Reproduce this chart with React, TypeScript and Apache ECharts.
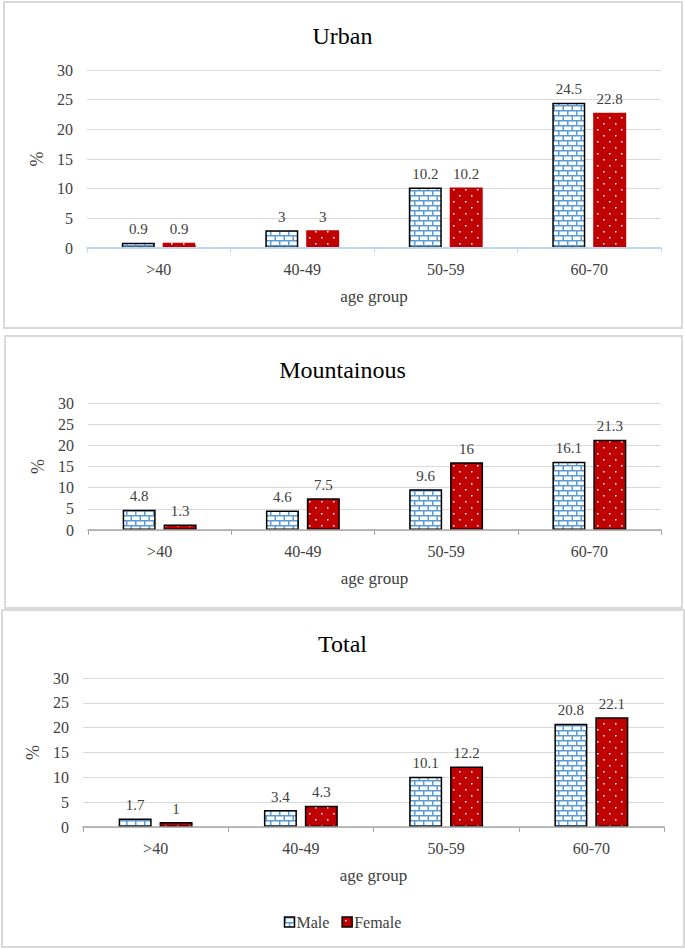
import React, { useEffect, useRef } from "react";
import * as echarts from "echarts";

const categories = [">40", "40-49", "50-59", "60-70"];
const urbanMale = [0.9, 3, 10.2, 24.5];
const urbanFemale = [0.9, 3, 10.2, 22.8];
const mountMale = [4.8, 4.6, 9.6, 16.1];
const mountFemale = [1.3, 7.5, 16, 21.3];
const totalMale = [1.7, 3.4, 10.1, 20.8];
const totalFemale = [1, 4.3, 12.2, 22.1];
const panelTitles = ["Urban", "Mountainous", "Total"];
const seriesNames = ["Male", "Female"];

const FONT = "Times New Roman, Liberation Serif, DejaVu Serif, serif";
const TEXT = "#404040";

function brickCanvas() {
  const c = document.createElement("canvas");
  c.width = 18;
  c.height = 10;
  const g = c.getContext("2d")!;
  g.fillStyle = "#ffffff";
  g.fillRect(0, 0, 18, 10);
  g.fillStyle = "#5b9bd5";
  g.fillRect(0, 0, 18, 1.5);
  g.fillRect(0, 5, 18, 1.5);
  g.fillRect(0, 0, 1.5, 5);
  g.fillRect(9, 0, 1.5, 5);
  g.fillRect(4.5, 5, 1.5, 5);
  g.fillRect(13.5, 5, 1.5, 5);
  return c;
}

function dotCanvas() {
  const c = document.createElement("canvas");
  c.width = 12;
  c.height = 12;
  const g = c.getContext("2d")!;
  g.fillStyle = "#c00000";
  g.fillRect(0, 0, 12, 12);
  g.fillStyle = "#ffffff";
  g.fillRect(3, 3, 1.5, 1.5);
  g.fillRect(9, 9, 1.5, 1.5);
  return c;
}

export default function App() {
  const ref = useRef<HTMLDivElement>(null);
  useEffect(() => {
    document.body.style.margin = "0";
    const chart = echarts.init(ref.current!, undefined, { renderer: "svg" });
    const brick = { image: brickCanvas(), repeat: "repeat" } as any;
    const dots = { image: dotCanvas(), repeat: "repeat" } as any;

    const grids = [
      { left: 87, top: 70, width: 574, height: 178 },
      { left: 88, top: 403, width: 573, height: 127 },
      { left: 83, top: 678, width: 581, height: 149 },
    ];
    const axisColors = ["#bdd7ee", "#a6a6a6", "#a6a6a6"];
    const titleTops = [19, 353, 627];
    const panels = [
      { x: 4, y: 2, w: 678, h: 326 },
      { x: 5, y: 336, w: 677, h: 272 },
      { x: 2, y: 610, w: 682, h: 337 },
    ];
    const data = [
      [urbanMale, urbanFemale],
      [mountMale, mountFemale],
      [totalMale, totalFemale],
    ];

    const series: any[] = [];
    data.forEach((pair, i) => {
      pair.forEach((vals, j) => {
        const femaleBorder = j === 1 && i === 0 ? 0 : 1.5;
        series.push({
          type: "bar",
          name: seriesNames[j],
          xAxisIndex: i,
          yAxisIndex: i,
          data: vals,
          barWidth: 33,
          barGap: "24%",
          itemStyle: {
            color: j === 0 ? brick : dots,
            borderColor: "#000000",
            borderWidth: j === 0 ? 1.5 : femaleBorder,
          },
          label: {
            show: true,
            position: "top",
            distance: 6,
            fontFamily: FONT,
            fontSize: 15,
            color: TEXT,
          },
        });
      });
    });

    chart.setOption({
      animation: false,
      backgroundColor: "#ffffff",
      textStyle: { fontFamily: FONT },
      title: panelTitles.map((t, i) => ({
        text: t,
        left: "center",
        top: titleTops[i],
        textStyle: { fontFamily: FONT, fontSize: 24, fontWeight: "normal", color: "#000000" },
      })),
      graphic: panels.map((p) => ({
        type: "rect",
        shape: { x: p.x, y: p.y, width: p.w, height: p.h },
        style: { fill: "none", stroke: "#d9d9d9", lineWidth: 2 },
        z: -1,
      })),
      legend: {
        bottom: 14,
        left: "center",
        itemWidth: 10,
        itemHeight: 10,
        itemGap: 12,
        icon: "rect",
        textStyle: { fontFamily: FONT, fontSize: 16, color: TEXT, padding: [0, 0, 0, -3] },
        data: [
          { name: "Male", itemStyle: { color: brick, borderColor: "#000", borderWidth: 1.5 } },
          { name: "Female", itemStyle: { color: dots, borderColor: "#000", borderWidth: 1.5 } },
        ],
      },
      grid: grids.map((g) => ({ ...g, containLabel: false })),
      xAxis: grids.map((_, i) => ({
        type: "category",
        gridIndex: i,
        data: categories,
        name: "age group",
        nameLocation: "middle",
        nameGap: 40,
        nameTextStyle: { fontFamily: FONT, fontSize: 17, color: TEXT },
        axisLine: { lineStyle: { color: axisColors[i], width: i === 0 ? 2 : 1.5 } },
        axisTick: { show: true, length: 5, lineStyle: { color: axisColors[i] } },
        axisLabel: { fontFamily: FONT, fontSize: 16, color: TEXT, margin: 13 },
        z: 5,
      })),
      yAxis: grids.map((_, i) => ({
        type: "value",
        gridIndex: i,
        min: 0,
        max: 30,
        interval: 5,
        name: "%",
        nameLocation: "middle",
        nameGap: 40,
        nameTextStyle: { fontFamily: FONT, fontSize: 18, color: TEXT },
        axisLine: { show: false },
        axisTick: { show: false },
        axisLabel: { fontFamily: FONT, fontSize: 16, color: TEXT, margin: 14 },
        splitLine: { lineStyle: { color: "#d9d9d9", width: 1 } },
      })),
      series,
    });
    return () => chart.dispose();
  }, []);
  return (
    <div
      ref={ref}
      style={{ position: "absolute", left: 0, top: 0, width: 685, height: 949 }}
    />
  );
}
